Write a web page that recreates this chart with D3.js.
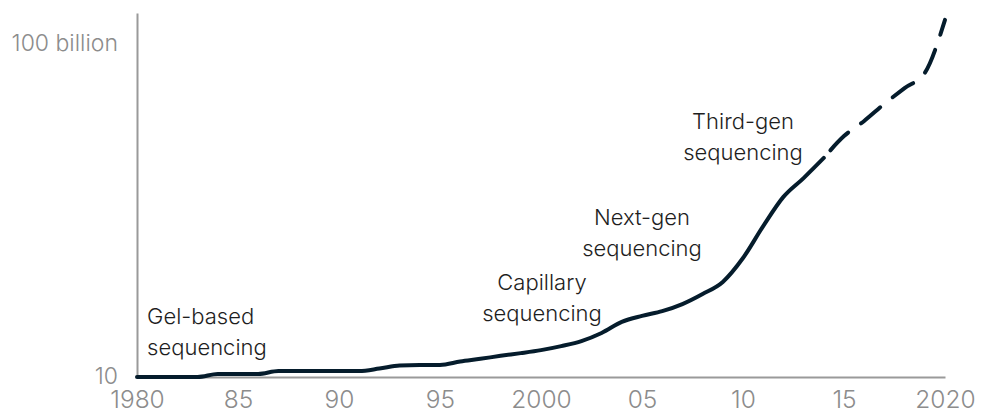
<!doctype html>
<html>
<head>
<meta charset="utf-8">
<script src="https://cdnjs.cloudflare.com/ajax/libs/d3/7.8.5/d3.min.js"></script>
<style>
  html, body { margin: 0; padding: 0; background: #fff; }
  svg text { font-family: Inter, 'Liberation Sans', Arial, sans-serif; font-weight: 300; }
  .tick-label { fill: #8c8c8c; }
  .note { fill: #1e1e1e; font-size: 22px; }
</style>
</head>
<body>
<div id="graph"></div>
<script>
// values (log scale, 10 .. 100 billion)
const years = [1980, 1981, 1982, 1983, 1984, 1985, 1986, 1987, 1988, 1989,
               1990, 1991, 1992, 1993, 1994, 1995, 1996, 1997, 1998, 1999,
               2000, 2001, 2002, 2003, 2004, 2005, 2006, 2007, 2008, 2009,
               2010, 2011, 2012, 2013, 2014, 2015, 2016, 2017, 2018, 2019, 2020]
const values = [10, 10, 10, 10, 12.3, 12.3, 12.3, 15.1, 15.1, 15.1,
                15.1, 15.1, 17.8, 21.9, 22.9, 22.9, 28.8, 34.7, 42.7, 51.3,
                63.1, 83.2, 117, 204, 437, 661, 912, 1480, 2950, 6760,
                34700, 309000, 2290000, 8320000, 33100000, 148000000, 417000000,
                1.35e9, 3.98e9, 1.12e10, 4.27e11]
const projectedFrom = 2014

const xTicks = [1980, 1985, 1990, 1995, 2000, 2005, 2010, 2015, 2020]
const xTickLabels = ['1980', '85', '90', '95', '2000', '05', '10', '15', '2020']
const yTicks = [10, 1e11]
const yTickLabels = ['10', '100 billion']

const notes = [
  ['Gel-based', 'sequencing'],
  ['Capillary', 'sequencing'],
  ['Next-gen', 'sequencing'],
  ['Third-gen', 'sequencing']
]

const W = 992, H = 415
const mLeft = 137, mRight = 945, mTop = 13, mBottom = 377

const svg = d3.select('#graph').append('svg')
  .attr('width', W).attr('height', H)

const x = d3.scaleLinear().domain([1980, 2020]).range([mLeft, mRight])
// axis line reaches above the 100 billion tick
const y = d3.scaleLog().domain([10, Math.pow(10, 1 + (mBottom - mTop) / 33.6)]).range([mBottom, mTop])

const data = years.map((yr, i) => ({ year: yr, value: values[i] }))

// x axis
const xAxis = svg.append('g')
  .attr('transform', `translate(0,${mBottom})`)
  .call(d3.axisBottom(x).tickValues(xTicks)
    .tickFormat((d, i) => xTickLabels[i]).tickSize(0).tickPadding(14))
xAxis.select('.domain').attr('stroke', '#9a9a9a').attr('stroke-width', 2)
xAxis.selectAll('text').attr('class', 'tick-label').attr('fill', null)
  .style('font-size', '24.5px').attr('font-family', null)

// y axis
const yAxis = svg.append('g')
  .attr('transform', `translate(${mLeft},0)`)
  .call(d3.axisLeft(y).tickValues(yTicks)
    .tickFormat((d, i) => yTickLabels[i]).tickSize(0).tickPadding(19))
yAxis.select('.domain').attr('stroke', '#9a9a9a').attr('stroke-width', 2)
yAxis.selectAll('text').attr('class', 'tick-label').attr('fill', null)
  .style('font-size', '23px').attr('font-family', null)
  .attr('dy', (d) => d === 10 ? '0.3em' : '0.42em')

const line = d3.line()
  .x(d => x(d.year))
  .y(d => y(d.value))
  .curve(d3.curveMonotoneX)

svg.append('path')
  .datum(data.filter(d => d.year <= projectedFrom))
  .attr('d', line)
  .attr('fill', 'none')
  .attr('stroke', '#051c2c')
  .attr('stroke-width', 4)
  .attr('stroke-linecap', 'round')

svg.append('path')
  .datum(data.filter(d => d.year >= projectedFrom))
  .attr('d', line)
  .attr('fill', 'none')
  .attr('stroke', '#051c2c')
  .attr('stroke-width', 4)
  .attr('stroke-linecap', 'round')
  .attr('stroke-dasharray', '25,16')
  .attr('stroke-dashoffset', -10)

// annotation layout: [x year, anchor, first baseline]
const noteLayout = [
  [1980.5, 'start', 324],
  [2000.05, 'middle', 290],
  [2005.0, 'middle', 225],
  [2010.0, 'middle', 129]
]

notes.forEach((lines, i) => {
  const [yr, anchor, base] = noteLayout[i]
  const t = svg.append('text')
    .attr('class', 'note')
    .attr('text-anchor', anchor)
    .attr('x', x(yr))
    .attr('y', base)
  lines.forEach((s, j) => {
    t.append('tspan').attr('x', x(yr)).attr('dy', j === 0 ? 0 : 30.5).text(s)
  })
})
</script>
</body>
</html>
